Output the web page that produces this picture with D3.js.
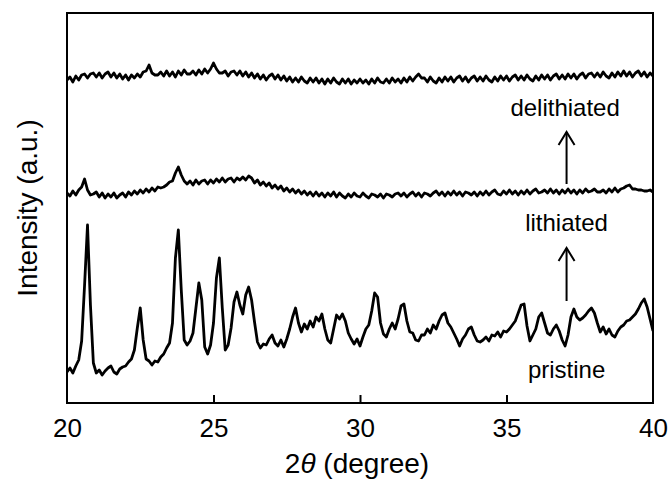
<!DOCTYPE html>
<html>
<head>
<meta charset="utf-8">
<script src="https://cdn.jsdelivr.net/npm/d3@7"></script>
<style>
  html, body { margin: 0; padding: 0; background: #fff; }
  svg { display: block; font-family: "Liberation Sans", Arial, Helvetica, sans-serif; }
</style>
</head>
<body>
<svg id="chart" width="670" height="481"></svg>
<script>
// 2-theta grid: start and step of the scan (degrees)
const scanStart = 20.0;
const scanStep = 0.1;

// Intensity (a.u., offset-stacked), one value per 0.1 deg from 20.0 to 40.0
const pristine = [
  31,35,30,37,43,62,118,178,98,40,
  30,33,28,32,35,37,31,29,34,36,
  37,41,44,53,75,95,63,44,42,38,
  42,41,46,49,55,60,80,145,173,113,
  63,58,62,70,95,120,103,56,49,58,
  80,125,145,95,53,58,75,101,111,98,
  89,108,116,103,81,61,55,59,58,64,
  68,60,57,63,56,64,74,86,95,80,
  71,79,74,82,76,86,82,89,74,63,
  60,74,88,84,89,82,70,64,59,64,
  57,66,74,78,92,110,106,80,69,66,
  74,80,74,84,97,99,82,71,70,63,
  62,68,68,74,70,78,74,82,88,90,
  80,76,70,64,57,64,68,74,76,68,
  62,61,63,66,62,68,67,71,66,72,
  71,74,78,82,90,98,99,77,62,68,
  74,86,90,80,70,68,74,78,72,63,
  57,68,86,94,86,83,85,88,92,95,
  90,80,71,76,69,74,68,66,72,76,
  78,82,83,86,89,94,100,104,96,84,
  72
];
const lithiated = [
  210,207,212,208,213,216,224,213,208,209,
  211,206,210,205,209,206,210,205,208,210,
  206,211,208,212,209,213,210,214,211,215,
  212,216,215,216,218,221,222,230,236,228,
  222,219,222,218,223,219,222,223,219,223,
  220,224,221,225,221,224,225,221,225,223,
  226,223,227,225,220,223,218,221,217,220,
  215,218,214,217,212,215,211,214,210,213,
  209,212,208,211,207,211,207,210,206,210,
  207,211,206,210,207,205,209,206,210,207,
  206,210,207,205,209,208,206,209,205,209,
  208,206,209,210,207,210,206,209,211,207,
  210,206,210,209,207,210,212,208,211,207,
  211,208,212,208,211,207,211,210,208,211,
  207,211,208,212,208,211,213,209,208,212,
  209,213,209,212,208,212,209,213,209,212,
  214,210,211,213,210,214,210,213,209,213,
  210,214,210,213,209,213,210,214,211,212,
  214,211,211,213,210,214,211,215,211,214,
  215,217,218,214,214,213,213,212,212,213,
  211
];
const delithiated = [
  323,326,321,327,323,328,329,325,329,330,
  326,330,325,329,331,326,330,325,329,324,
  328,323,328,325,329,326,331,332,338,330,
  328,328,331,327,332,327,331,326,332,328,
  333,329,329,332,328,333,329,334,330,334,
  340,334,330,330,332,327,331,332,328,332,
  327,331,326,330,325,329,324,328,323,327,
  329,324,328,323,327,322,326,321,325,321,
  326,322,320,325,321,325,320,324,319,324,
  320,325,321,319,324,320,324,319,323,320,
  324,320,323,319,324,320,325,321,320,324,
  320,325,321,324,320,325,321,326,322,326,
  329,325,325,321,326,322,320,325,321,326,
  322,326,321,325,327,322,326,321,325,327,
  322,326,322,327,323,321,326,322,327,323,
  327,322,326,328,323,327,323,328,324,322,
  327,323,328,324,328,323,327,329,324,328,
  324,329,325,329,324,328,330,325,329,330,
  326,330,326,331,327,325,330,326,331,327,
  332,327,331,326,330,332,327,331,326,330,
  327
];

const seriesNames = ["pristine", "lithiated", "delithiated"];
const xTicks = [20, 25, 30, 35, 40];

// labels: text, 2theta, intensity of baseline
const labelTexts = ["delithiated", "lithiated", "pristine"];
const labelX = [37.0, 37.05, 37.05];
const labelY = [287, 172, 25];
// arrows: 2theta, from intensity, to intensity
const arrowX = [37.05, 37.05];
const arrowFrom = [102, 219];
const arrowTo = [155, 271];

const svg = d3.select("#chart");
const mLeft = 67, mRight = 653, mTop = 13, mBottom = 403;

const x = d3.scaleLinear().domain([20, 40]).range([mLeft, mRight]);
const y = d3.scaleLinear().domain([0, 390]).range([mBottom, mTop]);

const toPoints = arr => arr.map((v, i) => [scanStart + i * scanStep, v]);
const line = d3.line().x(d => x(d[0])).y(d => y(d[1]));

svg.append("clipPath").attr("id", "clip")
  .append("rect").attr("x", mLeft).attr("y", mTop).attr("width", mRight - mLeft).attr("height", mBottom - mTop);

const g = svg.append("g").attr("clip-path", "url(#clip)");
[pristine, lithiated, delithiated].forEach(arr => {
  g.append("path")
    .attr("d", line(toPoints(arr)))
    .attr("fill", "none")
    .attr("stroke", "#000")
    .attr("stroke-width", 2.8)
    .attr("stroke-linejoin", "round");
});

// frame
svg.append("rect")
  .attr("x", mLeft).attr("y", mTop)
  .attr("width", mRight - mLeft).attr("height", mBottom - mTop)
  .attr("fill", "none").attr("stroke", "#000").attr("stroke-width", 2);

// x axis (ticks inward)
const xAxis = d3.axisBottom(x).tickValues(xTicks).tickSizeInner(-8).tickSizeOuter(0).tickPadding(16);
const axG = svg.append("g").attr("transform", `translate(0,${mBottom})`).call(xAxis);
axG.select(".domain").remove();
axG.selectAll(".tick line").attr("stroke", "#000").attr("stroke-width", 2)
  .attr("display", d => (d === 20 || d === 40) ? "none" : null);
axG.selectAll(".tick text")
  .attr("font-size", 26).attr("fill", "#000")
  .attr("font-family", "'Liberation Sans', Arial, sans-serif");

// x label
const xl = svg.append("text")
  .attr("x", 357).attr("y", 473)
  .attr("text-anchor", "middle")
  .attr("font-size", 28).attr("fill", "#000");
xl.append("tspan").text("2");
xl.append("tspan").attr("font-style", "italic").text("θ");
xl.append("tspan").text(" (degree)");

// y label
svg.append("text")
  .attr("transform", "translate(37,208) rotate(-90)")
  .attr("text-anchor", "middle")
  .attr("font-size", 28).attr("fill", "#000")
  .text("Intensity (a.u.)");

// annotations
labelTexts.forEach((t, i) => {
  svg.append("text")
    .attr("x", x(labelX[i])).attr("y", y(labelY[i]))
    .attr("text-anchor", "middle")
    .attr("font-size", 24).attr("fill", "#000")
    .text(t);
});
arrowX.forEach((a, i) => {
  const xp = x(a), y0 = y(arrowFrom[i]), y1 = y(arrowTo[i]);
  svg.append("line").attr("x1", xp).attr("x2", xp).attr("y1", y0).attr("y2", y1)
    .attr("stroke", "#000").attr("stroke-width", 2);
  svg.append("path")
    .attr("d", `M${xp - 8},${y1 + 13} L${xp},${y1} L${xp + 8},${y1 + 13}`)
    .attr("fill", "none").attr("stroke", "#000").attr("stroke-width", 2);
});
</script>
</body>
</html>
